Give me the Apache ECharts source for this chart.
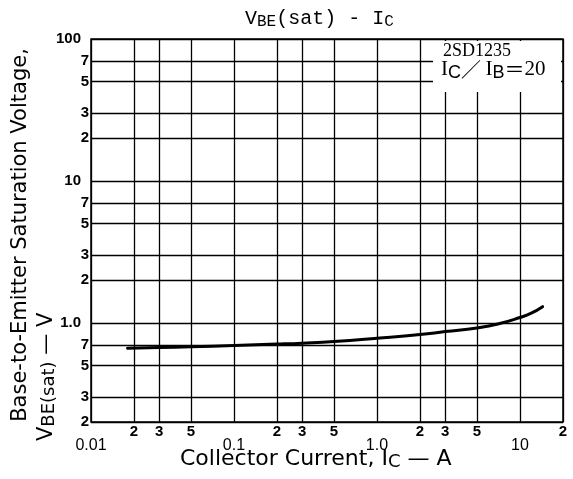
<!DOCTYPE html>
<html><head><meta charset="utf-8">
<script src="https://cdn.jsdelivr.net/npm/echarts@6/dist/echarts.min.js"></script>
<style>html,body{margin:0;padding:0;background:#fff}#c{width:573px;height:479px}</style>
</head><body><div id="c"></div>
<script>
// Data
var curveX = [0.018, 0.03, 0.05, 0.1, 0.2, 0.3, 0.5, 1, 2, 3, 5, 7, 10, 12, 14.4];
var curveY = [0.662, 0.670, 0.678, 0.692, 0.708, 0.719, 0.738, 0.778, 0.826, 0.867, 0.92, 0.98, 1.09, 1.17, 1.30];
var xTicks = [0.01, 0.02, 0.03, 0.05, 0.1, 0.2, 0.3, 0.5, 1, 2, 3, 5, 10, 20];
var xTickLabels = ['0.01', '2', '3', '5', '0.1', '2', '3', '5', '1.0', '2', '3', '5', '10', '2'];
var xDecades = [0.01, 0.1, 1, 10];
var yTicks = [0.2, 0.3, 0.5, 0.7, 1, 2, 3, 5, 7, 10, 20, 30, 50, 70, 100];
var yTickLabels = ['2', '3', '5', '7', '1.0', '2', '3', '5', '7', '10', '2', '3', '5', '7', '100'];
var yDecades = [1, 10, 100];

var chart = echarts.init(document.getElementById('c'));
var sans = 'Liberation Sans, Arial, sans-serif';

var gridLines = [];
xTicks.forEach(function (v, i) {
  var dec = xDecades.indexOf(v) >= 0;
  gridLines.push({
    xAxis: v,
    label: {
      formatter: xTickLabels[i],
      distance: dec ? 16 : 2,
      fontSize: dec ? 16 : 15,
      fontWeight: dec ? 'normal' : 'bold',
      color: '#000', fontFamily: sans
    }
  });
});
yTicks.forEach(function (v, i) {
  var dec = yDecades.indexOf(v) >= 0;
  gridLines.push({
    yAxis: v,
    label: {
      formatter: yTickLabels[i],
      distance: dec ? 10 : 2,
      fontSize: 15,
      fontWeight: 'bold',
      color: '#000', fontFamily: sans
    }
  });
});

var curveData = curveX.map(function (x, i) { return [x, curveY[i]]; });

chart.setOption({
  animation: false,
  backgroundColor: '#fff',
  grid: { left: 91, right: 10, top: 39, bottom: 57, show: true, borderColor: '#000', borderWidth: 1.5 },
  xAxis: { type: 'log', logBase: 10, min: 0.01, max: 20,
    axisLine: { show: false }, axisTick: { show: false }, axisLabel: { show: false }, splitLine: { show: false } },
  yAxis: { type: 'log', logBase: 10, min: 0.2, max: 100,
    axisLine: { show: false }, axisTick: { show: false }, axisLabel: { show: false }, splitLine: { show: false } },
  series: [
    { type: 'line', data: [], silent: true,
      markLine: { silent: true, symbol: 'none', animation: false,
        lineStyle: { color: '#000', width: 1.3, type: 'solid' },
        label: { show: true, position: 'start' },
        data: gridLines } },
    { type: 'line', data: curveData, smooth: true, showSymbol: false, z: 10,
      lineStyle: { color: '#000', width: 3, cap: 'round' } }
  ],
  graphic: [
    { type: 'rect', z: 100, shape: { x: 433, y: 41, width: 128, height: 51 }, style: { fill: '#fff' } },
    { type: 'text', z: 101, left: 443, top: 42, style: { text: '2SD1235', font: '18px "Liberation Serif", serif', fill: '#000' } },
    { type: 'text', z: 101, left: 441, top: 59, style: {
        text: '{a|I}{s|C}{f|／ }{a|I}{s|B}{f|＝}{a|20}',
        rich: { a: { fontFamily: 'Liberation Serif', fontSize: 21, color: '#000' },
                f: { fontFamily: 'Noto Sans CJK JP', fontSize: 20, color: '#000' },
                s: { fontFamily: 'Liberation Sans', fontSize: 18, padding: [7, 0, 0, 0], color: '#000' } } } },
    { type: 'text', z: 101, x: 245, y: 8, style: {
        text: '{a|V}{s|BE}{a|(sat) - I}{s|C}',
        rich: { a: { fontFamily: 'Liberation Mono', fontSize: 20, color: '#000' },
                s: { fontFamily: 'Liberation Mono', fontSize: 16, padding: [6, 0, 0, 0], color: '#000' } } } },
    { type: 'text', z: 101, x: 21, y: 235, rotation: Math.PI / 2, style: {
        text: 'Base-to-Emitter Saturation Voltage,', font: '21px "DejaVu Sans", sans-serif',
        fill: '#000', textAlign: 'center', textVerticalAlign: 'middle' } },
    { type: 'text', z: 101, x: 47, y: 441, rotation: Math.PI / 2, style: {
        text: '{a|V}{s|BE(sat)}{a| — V}', textAlign: 'left', textVerticalAlign: 'middle',
        rich: { a: { fontFamily: 'DejaVu Sans', fontSize: 21, color: '#000' },
                s: { fontFamily: 'DejaVu Sans', fontSize: 18, padding: [5, 0, 0, 0], color: '#000' } } } },
    { type: 'text', z: 101, x: 180, y: 448, style: {
        text: '{a|Collector Current, I}{s|C}{a| — A}',
        rich: { a: { fontFamily: 'DejaVu Sans', fontSize: 22, color: '#000' },
                s: { fontFamily: 'DejaVu Sans', fontSize: 18, padding: [5, 0, 0, 0], color: '#000' } } } }
  ]
});
</script></body></html>
